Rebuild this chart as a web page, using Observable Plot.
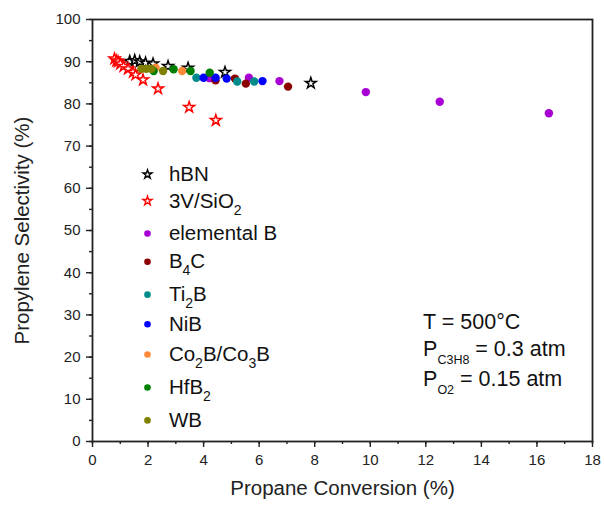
<!DOCTYPE html>
<html><head><meta charset="utf-8">
<script src="https://cdn.jsdelivr.net/npm/d3@7"></script>
<script src="https://cdn.jsdelivr.net/npm/@observablehq/plot@0.6"></script>
<style>body{margin:0;background:#fff;font-family:Arial,"Liberation Sans",sans-serif}</style>
</head><body><div id="chart"></div>
<script>
// Series names ({..} marks a subscript)
const seriesNames = ["hBN","3V/SiO{2}","elemental B","B{4}C","Ti{2}B","NiB","Co{2}B/Co{3}B","HfB{2}","WB"];
const seriesColors = ["#000000","#ff0000","#a800d4","#8b0000","#008b8b","#0000ff","#ff8a3a","#008000","#808000"];
const seriesSymbols = ["star","star","circle","circle","circle","circle","circle","circle","circle"];

// Propane conversion (%) and propylene selectivity (%)
const hbnX = [1.34,1.52,1.70,1.91,2.18,2.72,3.44,4.77,7.86];
const hbnY = [90.1,90.3,90.0,89.7,89.5,88.9,88.5,87.5,84.9];
const v3X = [0.79,0.86,0.92,1.00,1.12,1.28,1.46,1.55,1.82,2.36,3.48,4.44];
const v3Y = [90.7,90.2,90.0,89.5,88.9,88.3,87.5,86.9,85.7,83.6,79.2,76.1];
const elemBX = [4.22,5.63,6.73,9.84,12.5,16.43];
const elemBY = [86.1,86.2,85.4,82.8,80.5,77.8];
const b4cX = [4.43,5.13,5.52,7.04];
const b4cY = [85.6,86.0,84.8,84.1];
const ti2bX = [3.74,5.21,5.82];
const ti2bY = [86.2,85.3,85.3];
const nibX = [4.00,4.43,4.83,6.12];
const nibY = [86.2,86.2,86.0,85.4];
const coX = [2.27,3.23];
const coY = [88.6,87.8];
const hfX = [2.20,2.92,3.53,4.22];
const hfY = [87.8,88.2,87.8,87.4];
const wbX = [1.76,1.94,2.12,2.54];
const wbY = [88.3,88.3,88.3,87.8];

const xTicks = [0,2,4,6,8,10,12,14,16,18];
const yTicks = [0,10,20,30,40,50,60,70,80,90,100];
const annotations = ["T = 500°C","P{C3H8} = 0.3 atm","P{O2} = 0.15 atm"];

const seriesX = [hbnX,v3X,elemBX,b4cX,ti2bX,nibX,coX,hfX,wbX];
const seriesY = [hbnY,v3Y,elemBY,b4cY,ti2bY,nibY,coY,hfY,wbY];
const rows = [];
seriesNames.forEach((s,i) => seriesX[i].forEach((x,j) => rows.push({s, i, x, y: seriesY[i][j]})));
const starRows = rows.filter(d => seriesSymbols[d.i] === "star");
const dotRows = rows.filter(d => seriesSymbols[d.i] !== "star");

// legend rows placed inside the plot (data units of the y axis)
const legendRowY = [63.3,57.0,49.3,42.6,34.8,27.8,20.6,12.8,5.0];
const legend = seriesNames.map((s,i) => ({s, i, x: 1.98, tx: 2.75, y: legendRowY[i]}));
const ann = annotations.map((t,i) => ({t, x: 11.9, y: [28.4,22.0,14.7][i]}));

const color = i => seriesColors[i];
const font = "Arial, 'Liberation Sans', sans-serif";

const chart = Plot.plot({
  width: 604, height: 508,
  marginLeft: 92, marginRight: 12, marginTop: 19, marginBottom: 67,
  x: {domain: [0,18]},
  y: {domain: [0,100]},
  style: {fontFamily: font, fontSize: "15px", color: "#222", background: "white", overflow: "visible"},
  marks: [
    Plot.axisX({ticks: d3.range(0,19,1), tickSize: 3, tickFormat: () => "", label: null, strokeWidth: 1.4}),
    Plot.axisX({ticks: xTicks, tickSize: 6, tickPadding: 7, label: null, strokeWidth: 1.4, fontSize: 15}),
    Plot.axisY({ticks: d3.range(0,101,5), tickSize: 3, tickFormat: () => "", label: null, strokeWidth: 1.4}),
    Plot.axisY({ticks: yTicks, tickSize: 6, tickPadding: 6, label: null, strokeWidth: 1.4, fontSize: 15}),
    Plot.frame({stroke: "#222", strokeWidth: 1.8}),
    Plot.text(["Propane Conversion (%)"], {frameAnchor: "bottom", dy: 53, fontSize: 20.5}),
    Plot.text(["Propylene Selectivity (%)"], {frameAnchor: "left", textAnchor: "middle", rotate: -90, dx: -70, dy: 0, fontSize: 20.5}),
    Plot.dot(starRows, {x: "x", y: "y", symbol: "star", r: 3.4, fill: "white", stroke: d => color(d.i), strokeWidth: 1.5}),
    Plot.dot(dotRows, {x: "x", y: "y", symbol: "circle", r: 4.2, fill: d => color(d.i), stroke: "none"}),
    Plot.dot(legend.filter(d => seriesSymbols[d.i] === "star"), {x: "x", y: "y", symbol: "star", r: 2.8, fill: "white", stroke: d => color(d.i), strokeWidth: 1.4}),
    Plot.dot(legend.filter(d => seriesSymbols[d.i] !== "star"), {x: "x", y: "y", symbol: "circle", r: 3.3, fill: d => color(d.i)}),
    Plot.text(legend, {x: "tx", y: "y", text: "s", textAnchor: "start", fontSize: 20.5, fill: "#111", className: "sublabel"}),
    Plot.text(ann, {x: "x", y: "y", text: "t", textAnchor: "start", fontSize: 21.5, fill: "#111", className: "annlabel"})
  ]
});
document.getElementById("chart").appendChild(chart);

// convert {..} markers into real subscripts
function subify(root, subSize, shift) {
  d3.select(root).selectAll("text").each(function() {
    const t = this.textContent;
    if (!t.includes("{")) return;
    const el = d3.select(this);
    el.text(null);
    let down = false;
    for (const p of t.split(/(\{[^}]*\})/)) {
      if (!p) continue;
      if (p.startsWith("{")) {
        el.append("tspan").attr("dy", shift).attr("font-size", subSize).text(p.slice(1,-1));
        down = true;
      } else {
        const ts = el.append("tspan").text(p);
        if (down) { ts.attr("dy", -shift); down = false; }
      }
    }
  });
}
chart.querySelectorAll("g.sublabel").forEach(g => subify(g, 14, 7));
chart.querySelectorAll("g.annlabel").forEach(g => subify(g, 12.5, 8));
</script></body></html>
